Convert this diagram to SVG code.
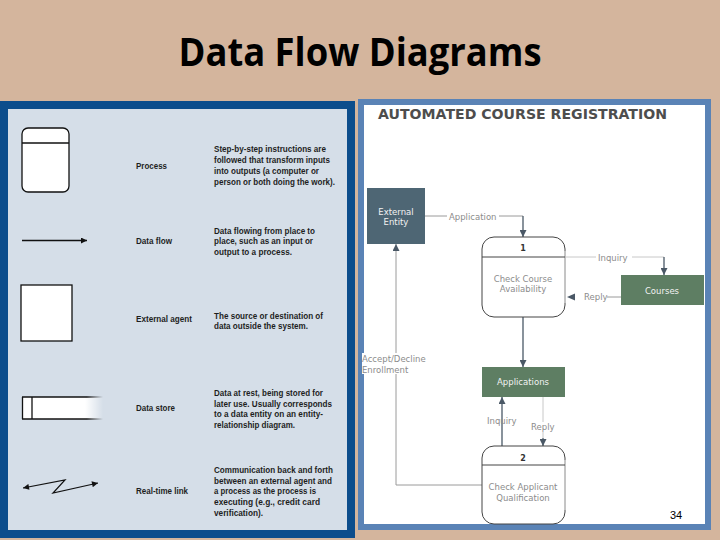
<svg xmlns="http://www.w3.org/2000/svg" width="720" height="540" viewBox="0 0 720 540">
<style>
.lbl{font-family:"Liberation Sans",Arial,sans-serif;font-weight:700;font-size:9.5px;fill:#1e1e1e}
.dsc{font-family:"Liberation Sans",Arial,sans-serif;font-weight:700;font-size:9.5px;fill:#1e1e1e}
.sym{fill:#fff;stroke:#111;stroke-width:1.3}
.rt{font-family:"DejaVu Sans",Verdana,sans-serif;font-size:8.5px;fill:#8c8c8c}
.wt{font-family:"DejaVu Sans",Verdana,sans-serif;font-size:8.5px;fill:#f2f2f2;text-anchor:middle}
.pt{font-family:"DejaVu Sans",Verdana,sans-serif;font-size:8.5px;fill:#8c8c8c;text-anchor:middle}
.num{font-family:"DejaVu Sans",Verdana,sans-serif;font-weight:700;font-size:8px;fill:#333;text-anchor:middle}
.dark{stroke:#4a5866;stroke-width:1.3;fill:none}
.grey{stroke:#9a9a9a;stroke-width:1;fill:none}
.pale{stroke:#c8c8c8;stroke-width:1;fill:none}
</style>
<defs>
<marker id="ah" viewBox="0 0 10 10" refX="10" refY="5" markerWidth="7" markerHeight="7" markerUnits="userSpaceOnUse" orient="auto-start-reverse">
<path d="M0,0 L10,5 L0,10 z" fill="#4a5866"/>
</marker>
<marker id="bh" viewBox="0 0 10 10" refX="10" refY="5" markerWidth="7" markerHeight="6" markerUnits="userSpaceOnUse" orient="auto-start-reverse">
<path d="M0,0 L10,5 L0,10 z" fill="#111"/>
</marker>
<linearGradient id="dsFill" gradientUnits="userSpaceOnUse" x1="22" y1="0" x2="103" y2="0">
<stop offset="0" stop-color="#fff"/><stop offset="0.78" stop-color="#fff"/><stop offset="1" stop-color="#fff" stop-opacity="0"/>
</linearGradient>
<linearGradient id="dsLine" gradientUnits="userSpaceOnUse" x1="22" y1="0" x2="103" y2="0">
<stop offset="0" stop-color="#111"/><stop offset="0.8" stop-color="#111"/><stop offset="1" stop-color="#111" stop-opacity="0"/>
</linearGradient>
</defs>

<rect x="0" y="0" width="720" height="540" fill="#D4B59D"/>
<text x="360" y="66" text-anchor="middle" font-family="'Open Sans','Noto Sans',sans-serif" font-weight="700" font-size="39" fill="#000" textLength="363" lengthAdjust="spacingAndGlyphs">Data Flow Diagrams</text>

<!-- Left legend panel -->
<g id="legend-panel">
<rect x="4" y="105" width="347" height="429" fill="#D5DEE8" stroke="#0C4D8C" stroke-width="8"/>
</g>

<g id="legend-process">
<rect class="sym" x="22" y="128" width="47" height="64" rx="6"/>
<line x1="22" y1="143" x2="69" y2="143" stroke="#111" stroke-width="1.3"/>
<text class="lbl" x="136" y="169" textLength="31" lengthAdjust="spacingAndGlyphs">Process</text>
<text class="dsc" x="214" y="152" textLength="112" lengthAdjust="spacingAndGlyphs">Step-by-step instructions are</text>
<text class="dsc" x="214" y="163" textLength="116" lengthAdjust="spacingAndGlyphs">followed that transform inputs</text>
<text class="dsc" x="214" y="174" textLength="105" lengthAdjust="spacingAndGlyphs">into outputs (a computer or</text>
<text class="dsc" x="214" y="185" textLength="121" lengthAdjust="spacingAndGlyphs">person or both doing the work).</text>
</g>

<g id="legend-dataflow">
<line x1="22" y1="240.5" x2="87" y2="240.5" stroke="#111" stroke-width="1.3" marker-end="url(#bh)"/>
<text class="lbl" x="136" y="244" textLength="36" lengthAdjust="spacingAndGlyphs">Data flow</text>
<text class="dsc" x="214" y="233.5" textLength="101" lengthAdjust="spacingAndGlyphs">Data flowing from place to</text>
<text class="dsc" x="214" y="244" textLength="99" lengthAdjust="spacingAndGlyphs">place, such as an input or</text>
<text class="dsc" x="214" y="254.5" textLength="78" lengthAdjust="spacingAndGlyphs">output to a process.</text>
</g>

<g id="legend-external">
<rect class="sym" x="21" y="285" width="51" height="56"/>
<text class="lbl" x="136" y="321.5" textLength="56" lengthAdjust="spacingAndGlyphs">External agent</text>
<text class="dsc" x="214" y="318.5" textLength="109" lengthAdjust="spacingAndGlyphs">The source or destination of</text>
<text class="dsc" x="214" y="329" textLength="94" lengthAdjust="spacingAndGlyphs">data outside the system.</text>
</g>

<g id="legend-datastore">
<rect x="22" y="397" width="81" height="22" fill="url(#dsFill)"/>
<line x1="22" y1="397" x2="103" y2="397" stroke="url(#dsLine)" stroke-width="1.3"/>
<line x1="22" y1="419" x2="103" y2="419" stroke="url(#dsLine)" stroke-width="1.3"/>
<line x1="22.5" y1="397" x2="22.5" y2="419" stroke="#111" stroke-width="1.3"/>
<line x1="32" y1="397" x2="32" y2="419" stroke="#111" stroke-width="1.3"/>
<text class="lbl" x="136" y="411" textLength="39" lengthAdjust="spacingAndGlyphs">Data store</text>
<text class="dsc" x="214" y="396" textLength="109" lengthAdjust="spacingAndGlyphs">Data at rest, being stored for</text>
<text class="dsc" x="214" y="406.5" textLength="118" lengthAdjust="spacingAndGlyphs">later use. Usually corresponds</text>
<text class="dsc" x="214" y="417" textLength="109" lengthAdjust="spacingAndGlyphs">to a data entity on an entity-</text>
<text class="dsc" x="214" y="428" textLength="81" lengthAdjust="spacingAndGlyphs">relationship diagram.</text>
</g>

<g id="legend-realtime">
<path d="M23,488 L65,480 L53,493 L98,483" fill="none" stroke="#111" stroke-width="1.2" marker-start="url(#bh)" marker-end="url(#bh)"/>
<text class="lbl" x="136" y="494" textLength="52" lengthAdjust="spacingAndGlyphs">Real-time link</text>
<text class="dsc" x="214" y="473" textLength="119" lengthAdjust="spacingAndGlyphs">Communication back and forth</text>
<text class="dsc" x="214" y="483.5" textLength="118" lengthAdjust="spacingAndGlyphs">between an external agent and</text>
<text class="dsc" x="214" y="494" textLength="102" lengthAdjust="spacingAndGlyphs">a process as the process is</text>
<text class="dsc" x="214" y="504.5" textLength="106" lengthAdjust="spacingAndGlyphs">executing (e.g., credit card</text>
<text class="dsc" x="214" y="515.5" textLength="49" lengthAdjust="spacingAndGlyphs">verification).</text>
</g>

<!-- Right DFD panel -->
<g id="dfd-panel">
<rect x="361" y="102" width="347" height="425" fill="#fff" stroke="#5A83B6" stroke-width="6"/>
<text x="378" y="118.5" font-family="'DejaVu Sans',Verdana,sans-serif" font-weight="700" font-size="14" fill="#4d4d4d" textLength="289" lengthAdjust="spacingAndGlyphs">AUTOMATED COURSE REGISTRATION</text>
</g>

<g id="connectors">
<!-- Application -->
<path class="grey" d="M425,216 H523"/>
<path class="dark" d="M523,216 V237" marker-end="url(#ah)"/>
<rect x="447" y="211" width="52" height="11" fill="#fff"/>
<text class="rt" x="449" y="220">Application</text>
<!-- Inquiry to Courses -->
<path class="pale" d="M565,257 H664"/>
<path class="dark" d="M664,257 V275" marker-end="url(#ah)"/>
<rect x="596" y="252" width="36" height="11" fill="#fff"/>
<text class="rt" x="598" y="261">Inquiry</text>
<!-- Reply from Courses -->
<path class="grey" d="M621,297 H607"/>
<text class="rt" x="584" y="300">Reply</text>
<path d="M567,297 L575,293.5 L575,300.5 z" fill="#4a5866"/>
<!-- Process 1 to Applications -->
<path class="dark" d="M523,317 V367" marker-end="url(#ah)"/>
<!-- Inquiry lower -->
<path class="dark" d="M502,446 V397" marker-end="url(#ah)"/>
<text class="rt" x="487" y="424">Inquiry</text>
<!-- Reply lower -->
<path class="pale" d="M543,397 V438"/>
<path class="dark" d="M543,438 V446" marker-end="url(#ah)"/>
<rect x="530" y="422" width="26" height="10" fill="#fff"/>
<text class="rt" x="531" y="430">Reply</text>
<!-- Accept/Decline -->
<path class="grey" d="M482,485 H396 V244" marker-end="url(#ah)"/>
<rect x="362" y="353" width="68" height="21" fill="#fff"/>
<text class="rt" x="362" y="362">Accept/Decline</text>
<text class="rt" x="362" y="373">Enrollment</text>
</g>

<g id="external-entity">
<rect x="367" y="188" width="58" height="56" fill="#4E6674"/>
<text class="wt" x="396" y="215">External</text>
<text class="wt" x="396" y="225">Entity</text>
</g>

<g id="process-1">
<rect x="482" y="237" width="83" height="80" rx="12" fill="#fff" stroke="#444" stroke-width="1"/>
<line x1="565" y1="251" x2="565" y2="303" stroke="#d0d0d0" stroke-width="1.5"/>
<line x1="482" y1="257" x2="565" y2="257" stroke="#444" stroke-width="1"/>
<text class="num" x="523" y="251">1</text>
<text class="pt" x="523" y="282">Check Course</text>
<text class="pt" x="523" y="292">Availability</text>
</g>

<g id="courses">
<rect x="621" y="275" width="83" height="30" fill="#5E7E63"/>
<text class="wt" x="662" y="294">Courses</text>
</g>

<g id="applications">
<rect x="482" y="367" width="83" height="30" fill="#5E7E63"/>
<text class="wt" x="523" y="385">Applications</text>
</g>

<g id="process-2">
<rect x="482" y="446" width="83" height="78" rx="12" fill="#fff" stroke="#444" stroke-width="1"/>
<line x1="565" y1="460" x2="565" y2="510" stroke="#d0d0d0" stroke-width="1.5"/>
<line x1="482" y1="465" x2="565" y2="465" stroke="#444" stroke-width="1"/>
<text class="num" x="523" y="461">2</text>
<text class="pt" x="523" y="490">Check Applicant</text>
<text class="pt" x="523" y="501">Qualification</text>
</g>

<text x="670" y="519" font-family="'Liberation Sans',Arial,sans-serif" font-size="11" fill="#000">34</text>
</svg>
